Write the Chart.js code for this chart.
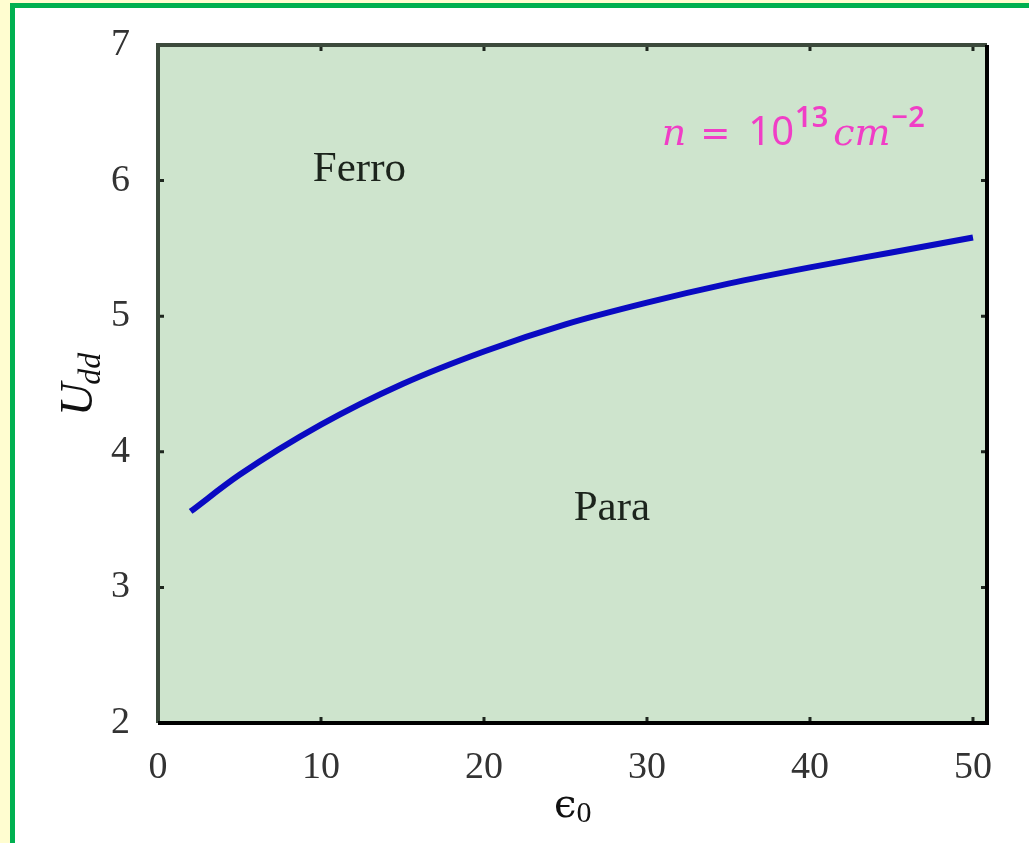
<!DOCTYPE html>
<html>
<head>
<meta charset="utf-8">
<script src="https://cdn.jsdelivr.net/npm/chart.js@4/dist/chart.umd.min.js"></script>
<style>
  html, body { margin: 0; padding: 0; background: #fffdd0; }
  #sheet {
    position: absolute; left: 10px; top: 3px; right: 0; bottom: 0;
    background: #ffffff;
    border-left: 5px solid #00b050;
    border-top: 5px solid #00b050;
  }
  #wrap { position: absolute; left: 0; top: 0; width: 1029px; height: 843px; }
</style>
</head>
<body>
<div id="sheet"></div>
<div id="wrap"><canvas id="phaseChart" width="1029" height="843"></canvas></div>
<script>
// phase boundary U_dd(eps0) at n = 1e13 cm^-2
const epsValues = [2, 5, 10, 15, 20, 25, 30, 35, 40, 45, 50];
const uddValues = [3.56, 3.83, 4.20, 4.50, 4.74, 4.94, 5.10, 5.24, 5.36, 5.47, 5.58];

const xTickValues = [0, 10, 20, 30, 40, 50];
const yTickValues = [2, 3, 4, 5, 6, 7];

const regionLabels = ["Ferro", "Para"];

const serif = '"Liberation Serif", "Times New Roman", serif';

// background, frame, inward ticks and text labels
const phasePlot = {
  id: "phasePlot",
  beforeDatasetsDraw(chart) {
    const { ctx, chartArea: a } = chart;
    ctx.save();
    ctx.fillStyle = "#cee4cd";
    ctx.fillRect(a.left, a.top, a.right - a.left, a.bottom - a.top);
    ctx.restore();
  },
  afterDatasetsDraw(chart) {
    const { ctx, chartArea: a, scales } = chart;
    const x = scales.x, y = scales.y;
    ctx.save();

    // inward tick marks on all four sides
    ctx.strokeStyle = "#1e261e";
    ctx.lineWidth = 3;
    const tl = 6;
    xTickValues.forEach((v) => {
      const px = x.getPixelForValue(v);
      ctx.beginPath();
      ctx.moveTo(px, a.bottom); ctx.lineTo(px, a.bottom - tl);
      ctx.moveTo(px, a.top); ctx.lineTo(px, a.top + tl);
      ctx.stroke();
    });
    yTickValues.forEach((v) => {
      const py = y.getPixelForValue(v);
      ctx.beginPath();
      ctx.moveTo(a.left, py); ctx.lineTo(a.left + tl, py);
      ctx.moveTo(a.right, py); ctx.lineTo(a.right - tl, py);
      ctx.stroke();
    });

    // frame
    ctx.lineWidth = 4;
    ctx.strokeStyle = "#3c4a3c";
    ctx.beginPath();
    ctx.moveTo(a.left, a.bottom); ctx.lineTo(a.left, a.top); ctx.lineTo(a.right, a.top);
    ctx.stroke();
    ctx.strokeStyle = "#000";
    ctx.beginPath();
    ctx.moveTo(a.left, a.bottom); ctx.lineTo(a.right, a.bottom); ctx.lineTo(a.right, a.top);
    ctx.stroke();

    // region names
    ctx.fillStyle = "#1c241c";
    ctx.font = "43px " + serif;
    ctx.textBaseline = "alphabetic";
    ctx.textAlign = "left";
    ctx.fillText(regionLabels[0], x.getPixelForValue(9.5), y.getPixelForValue(6.0));
    ctx.fillText(regionLabels[1], x.getPixelForValue(25.5), y.getPixelForValue(3.5));

    // density note: n = 10^13 cm^-2
    let cx = x.getPixelForValue(30.9);
    const by = y.getPixelForValue(6.26);
    const pieces = [
      { t: "n", f: 'italic 38px "DejaVu Serif"', dy: 0, gap: 14 },
      { t: "=", f: '36px "DejaVu Sans"', dy: 0, gap: 18 },
      { t: "10", f: '40px "Noto Sans"', dy: 0, gap: 1 },
      { t: "13", f: '600 29px "Noto Sans"', dy: -18, gap: 5 },
      { t: "cm", f: 'italic 38px "DejaVu Serif"', dy: 0, gap: 1 },
      { t: "\u22122", f: '600 29px "Noto Sans"', dy: -18, gap: 0 },
    ];
    ctx.fillStyle = "#f03ec6";
    pieces.forEach((p) => {
      ctx.font = p.f;
      ctx.fillText(p.t, cx, by + p.dy);
      cx += ctx.measureText(p.t).width + p.gap;
    });

    // axis titles
    ctx.fillStyle = "#111";
    ctx.font = '40px "DejaVu Serif"';
    const midX = (a.left + a.right) / 2;
    ctx.textAlign = "right";
    ctx.fillText("\u03f5", midX + 4, 817);
    ctx.textAlign = "left";
    ctx.font = "30px " + serif;
    ctx.fillText("0", midX + 4, 822);

    ctx.translate(92, 416);
    ctx.rotate(-Math.PI / 2);
    ctx.font = "italic 46px " + serif;
    ctx.fillText("U", 0, 0);
    const wU = ctx.measureText("U").width;
    ctx.font = "italic 32px " + serif;
    ctx.fillText("dd", wU - 2, 8);

    ctx.restore();
  },
};

const chart = new Chart(document.getElementById("phaseChart"), {
  type: "line",
  data: {
    datasets: [
      {
        data: epsValues.map((e, i) => ({ x: e, y: uddValues[i] })),
        borderColor: "#0a0ac2",
        borderWidth: 6,
        pointRadius: 0,
        cubicInterpolationMode: "monotone",
        fill: false,
      },
    ],
  },
  options: {
    responsive: false,
    animation: false,
    devicePixelRatio: 1,
    layout: { padding: { left: 0, top: 45, right: 42, bottom: 0 } },
    plugins: { legend: { display: false }, tooltip: { enabled: false } },
    scales: {
      x: {
        type: "linear",
        min: 0,
        max: 50.86,
        grid: { display: false },
        border: { display: false },
        ticks: { font: { family: serif, size: 38 }, color: "#333", padding: 14 },
        afterBuildTicks: (s) => { s.ticks = xTickValues.map((v) => ({ value: v })); },
        afterFit: (s) => { s.height = 120; },
      },
      y: {
        type: "linear",
        min: 2,
        max: 7,
        grid: { display: false },
        border: { display: false },
        ticks: { font: { family: serif, size: 38 }, color: "#333", padding: 20 },
        afterBuildTicks: (s) => { s.ticks = yTickValues.map((v) => ({ value: v })); },
        afterFit: (s) => { s.width = 158; },
      },
    },
  },
  plugins: [phasePlot],
});
</script>
</body>
</html>
